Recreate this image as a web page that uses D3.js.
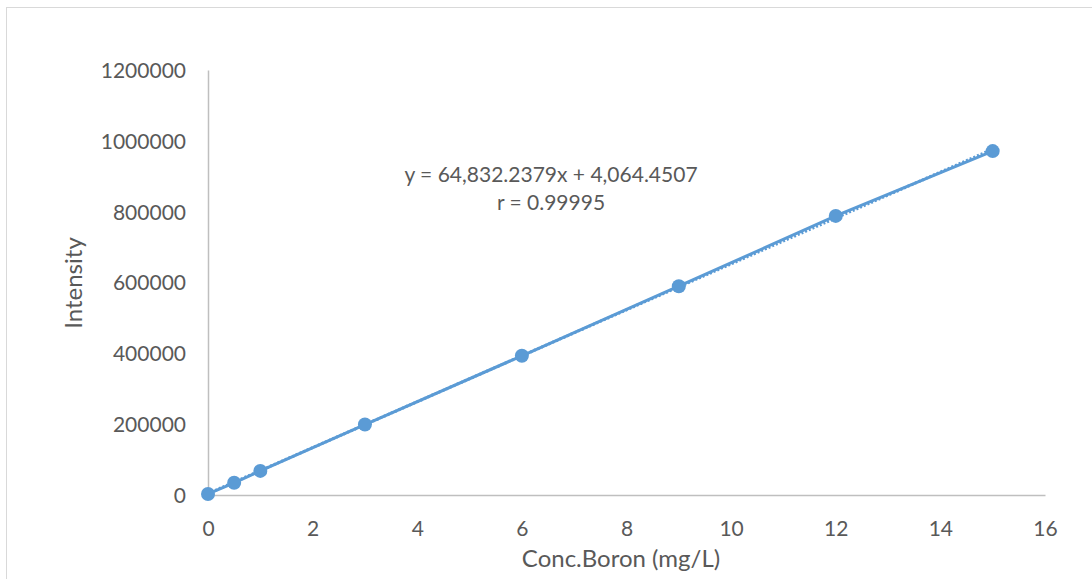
<!DOCTYPE html>
<html>
<head>
<meta charset="utf-8">
<script src="https://cdn.jsdelivr.net/npm/d3@7"></script>
<style>
  body { margin: 0; background: #fff; }
  text { font-family: Lato, "Open Sans", sans-serif; fill: #595959; }
</style>
</head>
<body>
<svg id="chart" width="1092" height="579"></svg>
<script>
// calibration data
var conc = [0, 0.5, 1, 3, 6, 9, 12, 15];
var intensity = [3000, 34500, 68000, 199000, 393000, 589500, 788000, 971000];
var xTicks = [0, 2, 4, 6, 8, 10, 12, 14, 16];
var yTicks = [0, 200000, 400000, 600000, 800000, 1000000, 1200000];
var slope = 64832.2379, intercept = 4064.4507;
var eqLines = ["y = 64,832.2379x + 4,064.4507", "r = 0.99995"];

var svg = d3.select("#chart"),
  margin = {top: 70, right: 47, bottom: 84, left: 208},
  width = +svg.attr("width") - margin.left - margin.right,
  height = +svg.attr("height") - margin.top - margin.bottom;

// outer chart border
svg.append("rect")
  .attr("x", 6.5).attr("y", 7.5)
  .attr("width", 1100).attr("height", 600)
  .attr("fill", "none")
  .attr("stroke", "#d9d9d9");

var g = svg.append("g").attr("transform", "translate(" + margin.left + "," + margin.top + ")");

var x = d3.scaleLinear().domain([0, 16]).range([0, width]);
var y = d3.scaleLinear().domain([0, 1200000]).range([height, 0]);

var xAxis = g.append("g")
  .attr("transform", "translate(0," + height + ")")
  .call(d3.axisBottom(x).tickValues(xTicks).tickSize(0).tickPadding(26).tickFormat(d3.format("d")));
var yAxis = g.append("g")
  .call(d3.axisLeft(y).tickValues(yTicks).tickSize(0).tickPadding(22).tickFormat(d3.format("d")));

[xAxis, yAxis].forEach(function(a) {
  a.select(".domain").attr("stroke", "#bfbfbf").attr("stroke-width", 1.5);
  a.selectAll("text").style("font-size", "21px").attr("fill", "#595959");
});
yAxis.selectAll("text").attr("dy", "0.35em");

// linear trendline (dotted)
g.append("path")
  .datum([0, 15])
  .attr("fill", "none")
  .attr("stroke", "#5b9bd5")
  .attr("stroke-width", 3)
  .attr("stroke-dasharray", "2,2")
  .attr("d", d3.line().x(function(d) { return x(d); }).y(function(d) { return y(slope * d + intercept); }));

var pts = conc.map(function(c, i) { return [c, intensity[i]]; });

g.append("path")
  .datum(pts)
  .attr("fill", "none")
  .attr("stroke", "#5b9bd5")
  .attr("stroke-width", 3)
  .attr("d", d3.line().x(function(d) { return x(d[0]); }).y(function(d) { return y(d[1]); }));

g.selectAll(".pt")
  .data(pts)
  .enter().append("circle")
  .attr("class", "pt")
  .attr("cx", function(d) { return x(d[0]); })
  .attr("cy", function(d) { return y(d[1]); })
  .attr("r", 7)
  .attr("fill", "#5b9bd5");

// equation label
svg.append("text")
  .attr("x", 551).attr("y", 182)
  .attr("text-anchor", "middle")
  .style("font-size", "21px")
  .selectAll("tspan")
  .data(eqLines)
  .enter().append("tspan")
  .attr("x", 551)
  .attr("dy", function(d, i) { return i ? 28 : 0; })
  .text(function(d) { return d; });

// axis titles
svg.append("text")
  .attr("x", 621).attr("y", 567)
  .attr("text-anchor", "middle")
  .style("font-size", "24px")
  .text("Conc.Boron (mg/L)");

svg.append("text")
  .attr("transform", "translate(82,283) rotate(-90)")
  .attr("text-anchor", "middle")
  .style("font-size", "24px")
  .text("Intensity");
</script>
</body>
</html>
